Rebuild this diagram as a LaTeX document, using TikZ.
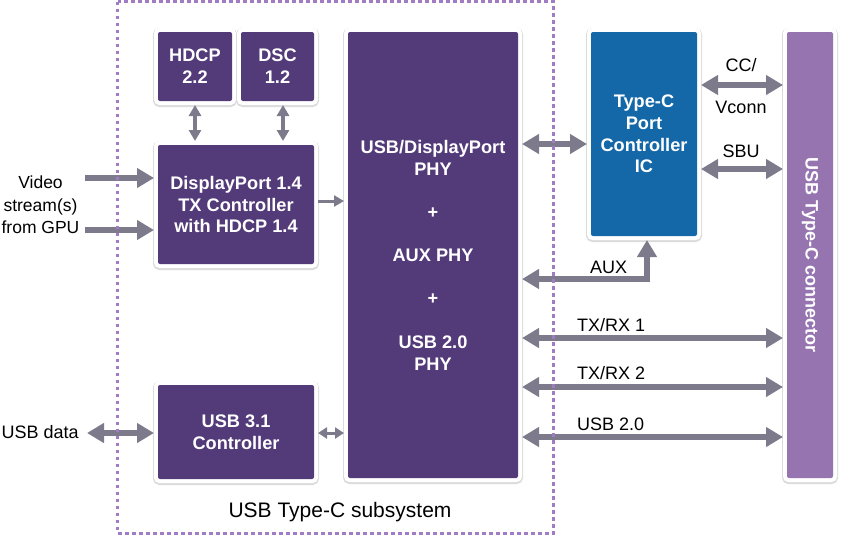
\documentclass[tikz,border=0pt]{standalone}
\usepackage{fontspec}
\setmainfont{Liberation Sans}
\usetikzlibrary{arrows.meta}
\definecolor{boxpurple}{HTML}{533B7A}
\definecolor{boxblue}{HTML}{1568A8}
\definecolor{connpurple}{HTML}{9574B0}
\definecolor{arrgrey}{HTML}{7D7B8B}
\definecolor{dotpurple}{HTML}{A17CC4}
\begin{document}
\begin{tikzpicture}[x=1pt,y=-1pt,
  blk/.style={fill=boxpurple, text=white, rounded corners=2pt, inner sep=0pt, outer sep=4pt,
    align=center, font=\bfseries\fontsize{18.2}{21.8}\selectfont,
    preaction={draw=black!14, line width=10pt, transform canvas={yshift=-1pt}},
    preaction={draw=white, line width=8pt}},
  lbl/.style={font=\fontsize{18}{22.5}\selectfont, align=center, inner sep=0pt},
  bigarr/.style={draw=arrgrey, line width=5.5pt, line join=miter,
    {Triangle[length=17pt,width=19pt]}-{Triangle[length=17pt,width=19pt]}},
  bigone/.style={draw=arrgrey, line width=5.5pt, -{Triangle[length=17pt,width=19pt]}},
  midarr/.style={draw=arrgrey, line width=3.5pt,
    {Triangle[length=11pt,width=12pt]}-{Triangle[length=11pt,width=12pt]}},
  smallone/.style={draw=arrgrey, line width=3pt, -{Triangle[length=10pt,width=11pt]}},
  smallarr/.style={draw=arrgrey, line width=3pt,
    {Triangle[length=9pt,width=11pt]}-{Triangle[length=9pt,width=11pt]}}]
\useasboundingbox (0,0) rectangle (850,536);

% blocks
\node[blk, minimum width=74pt, minimum height=69pt] (hdcp) at (195,66.5) {HDCP\\2.2};
\node[blk, minimum width=73pt, minimum height=69pt] (dsc) at (277.5,66.5) {DSC\\1.2};
\node[blk, minimum width=156pt, minimum height=119pt] (dp) at (236,204.5) {DisplayPort 1.4\\TX Controller\\with HDCP 1.4};
\node[blk, minimum width=156pt, minimum height=94pt] (usb) at (236,432) {USB 3.1\\Controller};
\node[blk, minimum width=170pt, minimum height=446pt] (phy) at (433,255)
  {USB/DisplayPort\\PHY\\[22pt]+\\[21pt]AUX PHY\\[21pt]+\\[22pt]USB 2.0\\PHY};
\node[blk, fill=boxblue, minimum width=106pt, minimum height=204pt] (tc) at (644,134)
  {Type-C\\Port\\Controller\\IC};
\node[blk, fill=connpurple, minimum width=46pt, minimum height=446pt] (conn) at (810,255) {};
\node[font=\bfseries\fontsize{18}{21}\selectfont, text=white, rotate=-90, inner sep=0pt] (conntext) at (conn.center) {USB Type-C connector};

% left inputs
\node[lbl, font=\fontsize{17.5}{22.5}\selectfont] (video) at (40.5,205) {Video\\stream(s)\\from GPU};
\coordinate (v1) at (85,178);
\coordinate (v2) at (85,230);
\draw[bigone] (v1) -- (v1 -| dp.west);
\draw[bigone] (v2) -- (v2 -| dp.west);
\node[lbl, anchor=west] (usbdata) at (1.5,432) {USB data};
\coordinate (ud) at (87,433);
\draw[bigarr] (ud) -- (ud -| usb.west);

% internal
\coordinate (h1) at (195,0);
\coordinate (d1) at (283,0);
\draw[midarr] (h1 |- hdcp.south) -- (h1 |- dp.north);
\draw[midarr] (d1 |- dsc.south) -- (d1 |- dp.north);
\coordinate (dpy) at (0,201);
\draw[smallone] (dp.east |- dpy) -- (phy.west |- dpy);
\coordinate (uy) at (0,433);
\draw[smallarr] (usb.east |- uy) -- (phy.west |- uy);

% PHY <-> Type-C
\coordinate (py) at (0,144);
\draw[bigarr] (phy.east |- py) -- (tc.west |- py);

% AUX
\coordinate (auxc) at (647,279);
\coordinate (auxt) at (647,0);
\draw[bigarr] (phy.east |- auxc) -- (auxc) -- (auxt |- tc.south);
\node[lbl, anchor=west] (auxl) at (590,267) {AUX};

% Type-C <-> connector
\coordinate (ccy) at (0,85);
\coordinate (sby) at (0,169);
\draw[bigarr] (tc.east |- ccy) -- (conn.west |- ccy);
\draw[bigarr] (tc.east |- sby) -- (conn.west |- sby);
\node[lbl] (ccl) at (741,65) {CC/};
\node[lbl] (vcl) at (741,107) {Vconn};
\node[lbl] (sbul) at (741,151) {SBU};

% PHY <-> connector
\coordinate (t1) at (0,338);
\coordinate (t2) at (0,387);
\coordinate (t3) at (0,437);
\draw[bigarr] (phy.east |- t1) -- (conn.west |- t1);
\draw[bigarr] (phy.east |- t2) -- (conn.west |- t2);
\draw[bigarr] (phy.east |- t3) -- (conn.west |- t3);
\node[lbl, anchor=west] (t1l) at (577,325) {TX/RX 1};
\node[lbl, anchor=west] (t2l) at (577,373) {TX/RX 2};
\node[lbl, anchor=west] (t3l) at (577,424) {USB 2.0};

% subsystem frame (drawn over arrows)
\draw[dotpurple, line width=3pt, dash pattern=on 3.5pt off 3.5pt] (117.5,1.5) rectangle (553.5,533);
\node[lbl, font=\fontsize{21}{24}\selectfont] (subsys) at (340,512) {USB Type-C subsystem};
\end{tikzpicture}
\end{document}
